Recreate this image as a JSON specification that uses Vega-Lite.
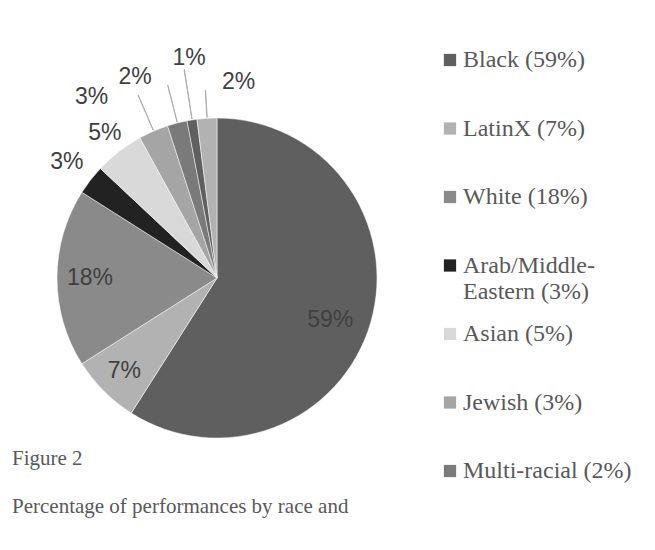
{
  "$schema": "https://vega.github.io/schema/vega-lite/v6.json",
  "width": 434,
  "height": 550,
  "autosize": {"type": "none"},
  "padding": {"top": 3, "left": 0, "right": 221, "bottom": 0},
  "background": "#ffffff",
  "config": {"view": {"stroke": null}},
  "title": {
    "text": ["Figure 2", "Percentage of performances by race and"],
    "orient": "bottom",
    "anchor": "start",
    "frame": "group",
    "offset": -88,
    "dx": 12,
    "font": "Liberation Serif",
    "fontSize": 21,
    "fontWeight": "normal",
    "color": "#595959",
    "lineHeight": 48,
    "baseline": "alphabetic"
  },
  "data": {
    "values": [
      {"category": "Black (59%)", "share": 0.59},
      {"category": "LatinX (7%)", "share": 0.07},
      {"category": "White (18%)", "share": 0.18},
      {"category": "Arab/Middle-Eastern (3%)", "share": 0.03},
      {"category": "Asian (5%)", "share": 0.05},
      {"category": "Jewish (3%)", "share": 0.03},
      {"category": "Multi-racial (2%)", "share": 0.02},
      {"category": "Native American (1%)", "share": 0.01},
      {"category": "Other (2%)", "share": 0.02}
    ]
  },
  "transform": [{"window": [{"op": "row_number", "as": "idx"}]}],
  "encoding": {
    "theta": {"field": "share", "type": "quantitative", "stack": true},
    "order": {"field": "idx", "type": "quantitative"}
  },
  "layer": [
    {
      "mark": {"type": "arc", "outerRadius": 160, "stroke": "#ffffff", "strokeWidth": 0.5},
      "encoding": {
        "color": {
          "field": "category",
          "type": "nominal",
          "scale": {
            "domain": ["Black (59%)", "LatinX (7%)", "White (18%)", "Arab/Middle-Eastern (3%)", "Asian (5%)", "Jewish (3%)", "Multi-racial (2%)", "Native American (1%)", "Other (2%)"],
            "range": ["#5f5f5f", "#b2b2b2", "#8a8a8a", "#222222", "#d9d9d9", "#a5a5a5", "#7a7a7a", "#5f5f5f", "#b2b2b2"]
          },
          "legend": {
            "values": ["Black (59%)", "LatinX (7%)", "White (18%)", "Arab/Middle-Eastern (3%)", "Asian (5%)", "Jewish (3%)", "Multi-racial (2%)"],
            "title": null,
            "orient": "none",
            "legendX": 438,
            "legendY": 45,
            "padding": 0,
            "symbolType": "square",
            "symbolSize": 150,
            "symbolStrokeWidth": 0,
            "labelFont": "Liberation Serif",
            "labelFontSize": 24,
            "labelColor": "#595959",
            "labelOffset": 1,
            "labelLimit": 300,
            "gridAlign": "all",
            "rowPadding": 18.5,
            "labelExpr": "datum.label === 'Arab/Middle-Eastern (3%)' ? ['Arab/Middle-', 'Eastern (3%)'] : datum.label"
          }
        }
      }
    },
    {
      "transform": [
        {"stack": "share", "groupby": [], "sort": [{"field": "idx", "order": "ascending"}], "as": ["s0", "s1"]},
        {"calculate": "(datum.s0 + datum.s1) / 2", "as": "m0"},
        {"calculate": "(datum.s0 + datum.s1) / 2 + 0.0004", "as": "m1"},
        {"filter": "datum.category === 'Jewish (3%)' || datum.category === 'Multi-racial (2%)'"}
      ],
      "mark": {"type": "arc", "innerRadius": 161, "outerRadius": 199, "fill": "#a6a6a6", "stroke": "#a6a6a6", "strokeWidth": 0.7},
      "encoding": {
        "theta": {"field": "m0", "type": "quantitative", "stack": null},
        "theta2": {"field": "m1"}
      }
    },
    {
      "transform": [
        {"stack": "share", "groupby": [], "sort": [{"field": "idx", "order": "ascending"}], "as": ["s0", "s1"]},
        {"calculate": "(datum.s0 + datum.s1) / 2", "as": "m0"},
        {"calculate": "(datum.s0 + datum.s1) / 2 + 0.0004", "as": "m1"},
        {"filter": "datum.category === 'Native American (1%)'"}
      ],
      "mark": {"type": "arc", "innerRadius": 161, "outerRadius": 211, "fill": "#a6a6a6", "stroke": "#a6a6a6", "strokeWidth": 0.7},
      "encoding": {
        "theta": {"field": "m0", "type": "quantitative", "stack": null},
        "theta2": {"field": "m1"}
      }
    },
    {
      "transform": [
        {"stack": "share", "groupby": [], "sort": [{"field": "idx", "order": "ascending"}], "as": ["s0", "s1"]},
        {"calculate": "(datum.s0 + datum.s1) / 2", "as": "m0"},
        {"calculate": "(datum.s0 + datum.s1) / 2 + 0.0004", "as": "m1"},
        {"filter": "datum.category === 'Other (2%)'"}
      ],
      "mark": {"type": "arc", "innerRadius": 161, "outerRadius": 188, "fill": "#a6a6a6", "stroke": "#a6a6a6", "strokeWidth": 0.7},
      "encoding": {
        "theta": {"field": "m0", "type": "quantitative", "stack": null},
        "theta2": {"field": "m1"}
      }
    },
    {
      "mark": {"type": "text", "radius": 121, "dx": -3, "dy": 8, "font": "Liberation Sans", "fontSize": 23, "fill": "#404040"},
      "encoding": {
        "text": {"field": "share", "type": "quantitative", "format": ".0%"},
        "opacity": {"condition": {"test": "datum.category === 'Black (59%)'", "value": 1}, "value": 0}
      }
    },
    {
      "mark": {"type": "text", "radius": 131, "font": "Liberation Sans", "fontSize": 23, "fill": "#404040"},
      "encoding": {
        "text": {"field": "share", "type": "quantitative", "format": ".0%"},
        "opacity": {"condition": {"test": "datum.category === 'LatinX (7%)'", "value": 1}, "value": 0}
      }
    },
    {
      "mark": {"type": "text", "radius": 127, "font": "Liberation Sans", "fontSize": 23, "fill": "#404040"},
      "encoding": {
        "text": {"field": "share", "type": "quantitative", "format": ".0%"},
        "opacity": {"condition": {"test": "datum.category === 'White (18%)'", "value": 1}, "value": 0}
      }
    },
    {
      "mark": {"type": "text", "radius": 190, "font": "Liberation Sans", "fontSize": 23, "fill": "#404040"},
      "encoding": {
        "text": {"field": "share", "type": "quantitative", "format": ".0%"},
        "opacity": {"condition": {"test": "datum.category === 'Arab/Middle-Eastern (3%)'", "value": 1}, "value": 0}
      }
    },
    {
      "mark": {"type": "text", "radius": 183, "font": "Liberation Sans", "fontSize": 23, "fill": "#404040"},
      "encoding": {
        "text": {"field": "share", "type": "quantitative", "format": ".0%"},
        "opacity": {"condition": {"test": "datum.category === 'Asian (5%)'", "value": 1}, "value": 0}
      }
    },
    {
      "mark": {"type": "text", "radius": 220, "dx": -38, "dy": 21, "font": "Liberation Sans", "fontSize": 23, "fill": "#404040"},
      "encoding": {
        "text": {"field": "share", "type": "quantitative", "format": ".0%"},
        "opacity": {"condition": {"test": "datum.category === 'Jewish (3%)'", "value": 1}, "value": 0}
      }
    },
    {
      "mark": {"type": "text", "radius": 217, "dx": -28, "dy": 9, "font": "Liberation Sans", "fontSize": 23, "fill": "#404040"},
      "encoding": {
        "text": {"field": "share", "type": "quantitative", "format": ".0%"},
        "opacity": {"condition": {"test": "datum.category === 'Multi-racial (2%)'", "value": 1}, "value": 0}
      }
    },
    {
      "mark": {"type": "text", "radius": 223, "dx": 7, "font": "Liberation Sans", "fontSize": 23, "fill": "#404040"},
      "encoding": {
        "text": {"field": "share", "type": "quantitative", "format": ".0%"},
        "opacity": {"condition": {"test": "datum.category === 'Native American (1%)'", "value": 1}, "value": 0}
      }
    },
    {
      "mark": {"type": "text", "radius": 196, "dx": 34, "font": "Liberation Sans", "fontSize": 23, "fill": "#404040"},
      "encoding": {
        "text": {"field": "share", "type": "quantitative", "format": ".0%"},
        "opacity": {"condition": {"test": "datum.category === 'Other (2%)'", "value": 1}, "value": 0}
      }
    }
  ]
}
